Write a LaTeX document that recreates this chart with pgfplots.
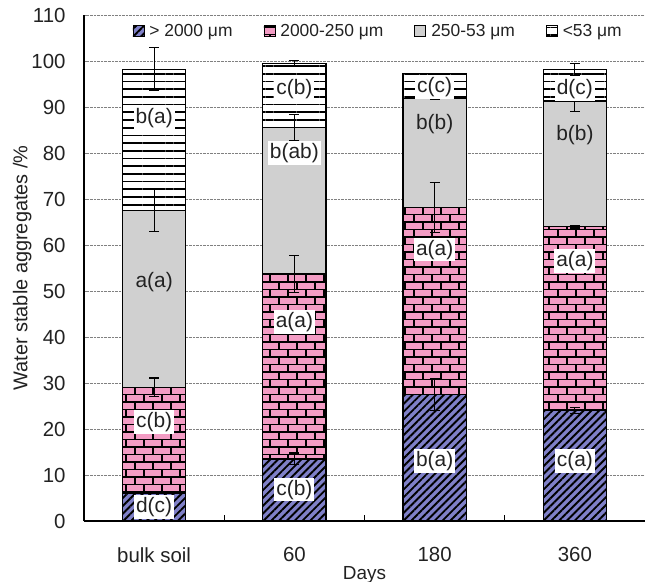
\documentclass[border=0pt]{standalone}
\usepackage{pgfplots}
\pgfplotsset{compat=1.18}
\usepackage{fontspec}
\setmainfont{Liberation Sans}
\usetikzlibrary{patterns,patterns.meta}

\definecolor{hatchblue}{HTML}{7F80C8}
\definecolor{brickpink}{HTML}{F39CC4}
\definecolor{lgray}{HTML}{D0D0D0}
\definecolor{txt}{HTML}{222222}

\tikzset{
  lab/.style={fill=white, inner sep=2bp, text=txt, font=\fontsize{21}{24}\selectfont},
  labg/.style={inner sep=2bp, text=txt, font=\fontsize{21}{24}\selectfont},
}

\pgfdeclarepatternformonly{mybricks}{\pgfqpoint{-1bp}{-1bp}}{\pgfqpoint{37bp}{16bp}}{\pgfqpoint{36bp}{15bp}}{%
  \pgfsetlinewidth{1.8bp}%
  \pgfpathmoveto{\pgfqpoint{-1bp}{0bp}}\pgfpathlineto{\pgfqpoint{37bp}{0bp}}%
  \pgfpathmoveto{\pgfqpoint{-1bp}{7.5bp}}\pgfpathlineto{\pgfqpoint{37bp}{7.5bp}}%
  \pgfpathmoveto{\pgfqpoint{0bp}{0bp}}\pgfpathlineto{\pgfqpoint{0bp}{7.5bp}}%
  \pgfpathmoveto{\pgfqpoint{18bp}{0bp}}\pgfpathlineto{\pgfqpoint{18bp}{7.5bp}}%
  \pgfpathmoveto{\pgfqpoint{9bp}{7.5bp}}\pgfpathlineto{\pgfqpoint{9bp}{15bp}}%
  \pgfpathmoveto{\pgfqpoint{27bp}{7.5bp}}\pgfpathlineto{\pgfqpoint{27bp}{15bp}}%
  \pgfusepath{stroke}%
}

\pgfplotstableread{
x y e
0 29.1 2.0
0 67.5 4.6
0 98.2 4.7
1 13.5 1.3
1 53.7 4.1
1 85.6 2.8
1 99.5 0.6
2 27.5 3.5
2 68.2 5.4
2 91.9 0.3
3 24.0 0.6
3 64.0 0.3
3 91.3 2.2
3 98.2 1.3
}\errtable

\begin{document}
\begin{tikzpicture}
\useasboundingbox (-84bp,-61bp) rectangle (561bp,521bp);
\begin{axis}[
  at={(0,0)}, anchor=south west,
  scale only axis, width=561bp, height=506bp,
  ybar stacked, bar width=0.45,
  xmin=-0.5, xmax=3.5, ymin=0, ymax=110,
  xtick={0,1,2,3}, xticklabels={bulk soil,60,180,360},
  major x tick style={draw=none},
  extra x ticks={0.5,1.5,2.5}, extra x tick labels={},
  extra x tick style={major tick length=6bp, major x tick style={draw=black, line width=1bp}},
  ytick={0,10,...,110},
  ymajorgrids, grid style={densely dotted, gray, line width=0.6bp},
  axis x line*=bottom, axis y line*=left,
  axis line style={-, black, line width=1.2bp},
  tick align=inside, major tick length=4bp,
  /pgf/number format/assume math mode=true,
  ticklabel style={font=\fontsize{20.5}{24}\selectfont, text=txt},
  xticklabel style={yshift=-23bp},
  yticklabel style={xshift=-15bp},
  ylabel={Water stable aggregates /\%},
  ylabel style={font=\fontsize{20}{24}\selectfont, text=txt, yshift=-7bp},
  xlabel={Days},
  xlabel style={font=\fontsize{19}{22}\selectfont, text=txt, yshift=3bp},
  legend style={at={(0.527,0.99)}, anchor=north, draw=none, fill=none,
    legend columns=4, font=\fontsize{17.5}{20}\selectfont, text=txt,
    nodes={inner xsep=5bp},
    /tikz/every even column/.append style={column sep=26bp}},
  legend cell align=left,
  legend image code/.code={\draw[#1, line width=0.8bp] (0bp,-5.5bp) rectangle (11bp,5.5bp);},
]
\addplot[fill=hatchblue, draw=black, line width=1.2bp,
  postaction={pattern color=black, pattern={Lines[angle=45,distance=5.5bp,line width=1.9bp]}}]
  coordinates {(0,6.0) (1,13.5) (2,27.5) (3,24.0)};
\addlegendentry{> 2000 μm}
\addplot[fill=brickpink, draw=black, line width=1.2bp,
  postaction={pattern color=black, pattern=mybricks}]
  coordinates {(0,23.1) (1,40.2) (2,40.7) (3,40.0)};
\addlegendentry{2000-250 μm}
\addplot[fill=lgray, draw=black, line width=1.2bp]
  coordinates {(0,38.4) (1,31.9) (2,23.7) (3,27.3)};
\addlegendentry{250-53 μm}
\addplot[fill=white, draw=black, line width=1.2bp,
  postaction={pattern color=black, pattern={Lines[angle=0,distance=7.7bp,line width=1.7bp]}}]
  coordinates {(0,30.7) (1,13.9) (2,5.3) (3,6.9)};
\addlegendentry{<53 μm}
\end{axis}
\begin{axis}[
  at={(0,0)}, anchor=south west,
  scale only axis, width=561bp, height=506bp,
  xmin=-0.5, xmax=3.5, ymin=0, ymax=110,
  hide axis, clip=false,
]
\addplot[draw=none, mark=none,
  error bars/.cd, y dir=both, y explicit,
  error bar style={draw=black, solid, line width=1.2bp},
  error mark=-,
  error mark options={draw=black, solid, line width=1.2bp, mark size=5bp, rotate=90}]
  table[x=x, y=y, y error=e] {\errtable};
\node[lab] at (axis cs:0,3) {d(c)};
\node[lab] at (axis cs:0,21.5) {c(b)};
\node[labg] at (axis cs:0,52) {a(a)};
\node[lab] at (axis cs:0,87.6) {b(a)};
\node[lab] at (axis cs:1,6.8) {c(b)};
\node[lab] at (axis cs:1,43.3) {a(a)};
\node[lab] at (axis cs:1,80) {b(ab)};
\node[lab] at (axis cs:1,93.8) {c(b)};
\node[lab] at (axis cs:2,13) {b(a)};
\node[lab] at (axis cs:2,59) {a(a)};
\node[labg] at (axis cs:2,86.3) {b(b)};
\node[lab] at (axis cs:2,94.3) {c(c)};
\node[lab] at (axis cs:3,13) {c(a)};
\node[lab] at (axis cs:3,56.5) {a(a)};
\node[labg] at (axis cs:3,83.9) {b(b)};
\node[lab] at (axis cs:3,93.8) {d(c)};
\end{axis}
\end{tikzpicture}
\end{document}
